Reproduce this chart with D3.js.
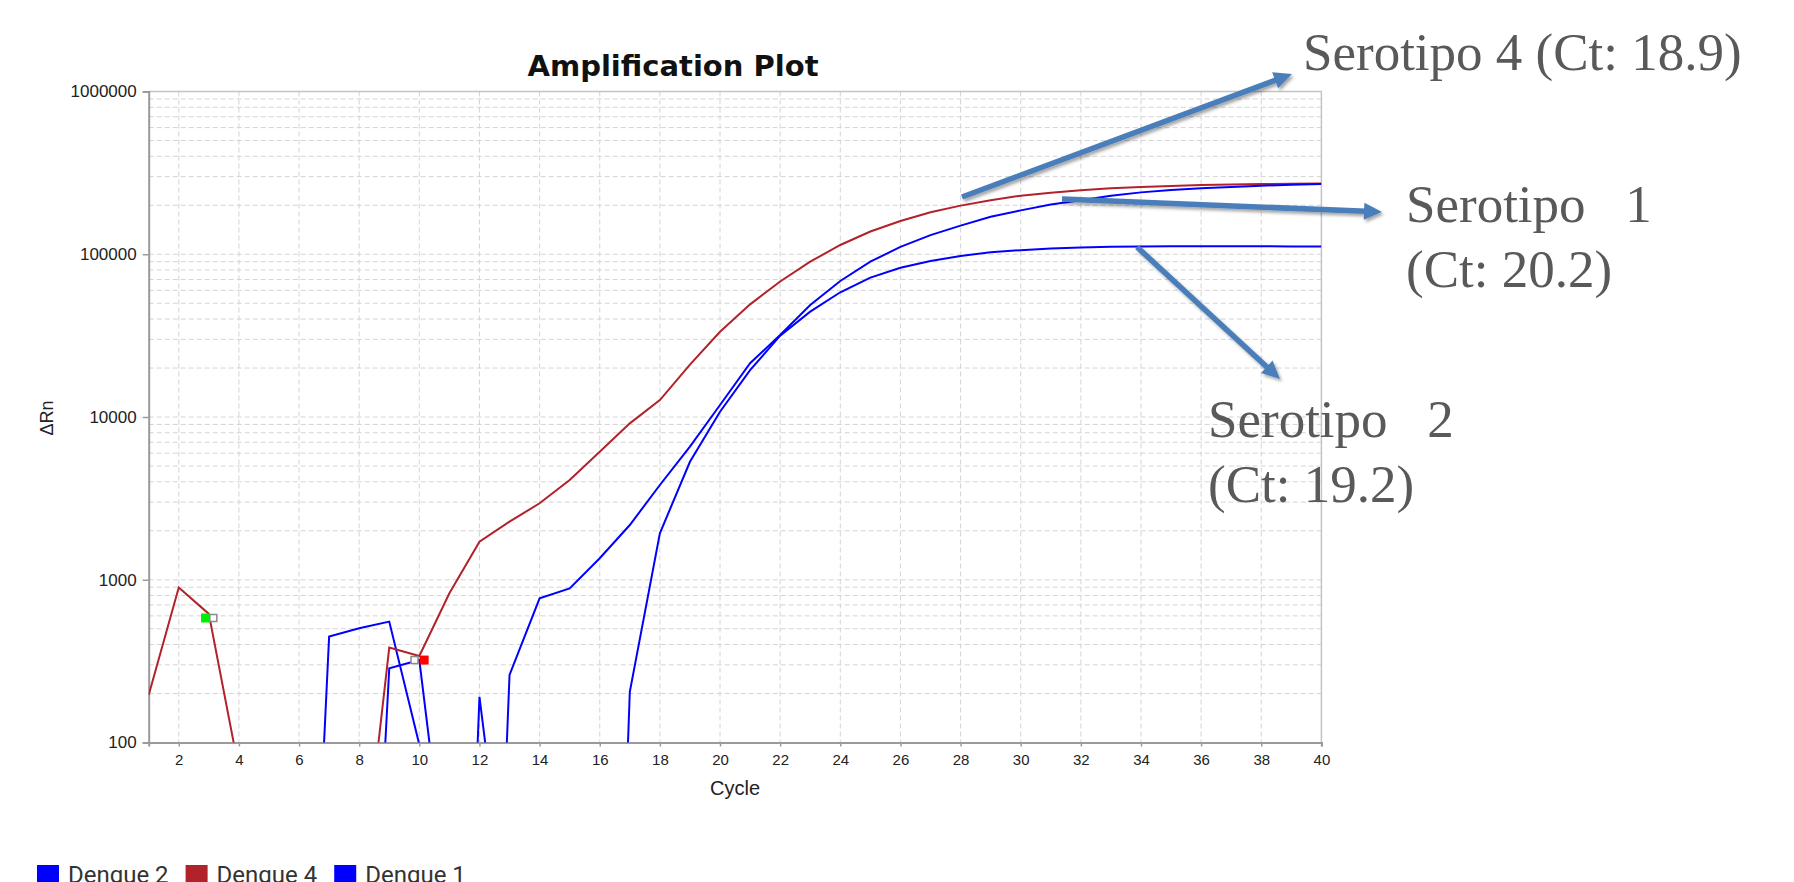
<!DOCTYPE html>
<html>
<head>
<meta charset="utf-8">
<script src="https://cdn.jsdelivr.net/npm/d3@7"></script>
<style>
  body { margin: 0; background: #fff; }
  svg { display: block; }
  .tick text { fill: #222; }
</style>
</head>
<body>
<div id="chart"></div>
<script>
// cycles 1..40
const cycles = d3.range(1, 41);

// ΔRn per cycle (values below 100 fall under the axis)
const dengue2 = [30, 20, 10, 5, 2, 0.06, 448, 504, 553, 97,
  0.004, 191, 6.3, 2, 1, 0.0013, 205, 1930, 5310, 10780,
  19400, 31600, 44400, 58400, 71800, 82700, 90900, 97600, 103000, 106000,
  108500, 110000, 111000, 111500, 112000, 112000, 112000, 112000, 111500, 111500];

const dengue4 = [196, 897, 617, 68, 40, 25, 15, 9, 383, 340,
  826, 1714, 2274, 2951, 4100, 6120, 9140, 12700, 21000, 33400,
  49200, 68000, 90000, 114000, 138000, 160000, 181000, 199000, 215000, 229000,
  239000, 247000, 254000, 259000, 263000, 266000, 268000, 270000, 271000, 272000];

const dengue1 = [20, 15, 10, 8, 5, 3, 1, 0.09, 286, 321,
  10, 0.006, 260, 769, 885, 1355, 2170, 3820, 6570, 11850,
  21400, 31900, 48800, 68500, 90000, 111000, 131000, 150000, 170000, 186000,
  202000, 215000, 229000, 240000, 248000, 254000, 259000, 264000, 267000, 270000];

const seriesNames = ["Dengue 2", "Dengue 4", "Dengue 1"];
const seriesValues = [dengue2, dengue4, dengue1];
const seriesColors = ["#0000ff", "#b2222a", "#0000ff"];

// threshold markers on the curves
const markerCycles = [2.89, 3.15, 10.16, 9.84];
const markerValues = [582, 582, 321, 321];
const markerKinds = ["green", "open", "red", "open"];

const xTicks = d3.range(2, 41, 2);
const yTicks = [100, 1000, 10000, 100000, 1000000];

const labelLines = [["Serotipo 4 (Ct: 18.9)"], ["Serotipo   1", "(Ct: 20.2)"], ["Serotipo   2", "(Ct: 19.2)"]];

// layout
const W = 1794, H = 882;
const plot = { left: 148.7, right: 1321.4, top: 91.5, bottom: 742.5 };

const svg = d3.select("#chart").append("svg")
  .attr("width", W).attr("height", H);

const defs = svg.append("defs");
defs.append("clipPath").attr("id", "plotclip")
  .append("rect")
  .attr("x", plot.left).attr("y", plot.top)
  .attr("width", plot.right - plot.left).attr("height", plot.bottom - plot.top);
defs.append("filter").attr("id", "shadow")
  .attr("x", "-20%").attr("y", "-20%").attr("width", "140%").attr("height", "140%")
  .append("feDropShadow")
  .attr("dx", 2).attr("dy", 2.5).attr("stdDeviation", 1.6)
  .attr("flood-color", "#000").attr("flood-opacity", 0.35);

const x = d3.scaleLinear().domain([1, 40]).range([plot.left, plot.right]);
const y = d3.scaleLog().domain([100, 1000000]).range([plot.bottom, plot.top]);

// grid
const minor = [];
[100, 1000, 10000, 100000].forEach(d => {
  for (let k = 1; k <= 9; k++) minor.push(d * k);
});
svg.append("g").selectAll("line.hgrid")
  .data(minor.filter(v => v > 100))
  .join("line")
  .attr("x1", plot.left).attr("x2", plot.right)
  .attr("y1", d => y(d)).attr("y2", d => y(d))
  .attr("stroke", "#d4d4d4").attr("stroke-width", 1)
  .attr("stroke-dasharray", "5,3");
svg.append("g").selectAll("line.vgrid")
  .data(xTicks.filter(c => c < 40))
  .join("line")
  .attr("x1", d => x(d)).attr("x2", d => x(d))
  .attr("y1", plot.top).attr("y2", plot.bottom)
  .attr("stroke", "#d4d4d4").attr("stroke-width", 1)
  .attr("stroke-dasharray", "5,3");

// frame (top / right)
svg.append("path")
  .attr("d", `M${plot.left},${plot.top}H${plot.right}V${plot.bottom}`)
  .attr("fill", "none").attr("stroke", "#c4c4c4").attr("stroke-width", 1.5);

// axes
const yAxis = svg.append("g")
  .attr("transform", `translate(${plot.left},0)`)
  .call(d3.axisLeft(y).tickValues(yTicks).tickFormat(d3.format("d")).tickSize(6).tickPadding(6));
yAxis.selectAll("text")
  .attr("font-family", "'Liberation Sans', Arial, sans-serif").attr("font-size", 17);

const xAxis = svg.append("g")
  .attr("transform", `translate(0,${plot.bottom})`)
  .call(d3.axisBottom(x).tickValues(xTicks).tickSize(4).tickPadding(8));
xAxis.selectAll("text")
  .attr("font-family", "'Liberation Sans', Arial, sans-serif").attr("font-size", 15);

[yAxis, xAxis].forEach(a => {
  a.select(".domain").attr("stroke", "#9a9a9a").attr("stroke-width", 2);
  a.selectAll(".tick line").attr("stroke", "#9a9a9a").attr("stroke-width", 1.5);
});

// curves
const line = d3.line()
  .x((d, i) => x(cycles[i]))
  .y(d => y(d));

svg.append("g").attr("clip-path", "url(#plotclip)")
  .selectAll("path.curve")
  .data(seriesValues)
  .join("path")
  .attr("class", "curve")
  .attr("d", line)
  .attr("fill", "none")
  .attr("stroke", (d, i) => seriesColors[i])
  .attr("stroke-width", 2);

// markers
const mk = svg.append("g");
markerKinds.forEach((kind, i) => {
  const s = kind === "open" ? 7 : 9;
  mk.append("rect")
    .attr("x", x(markerCycles[i]) - s / 2)
    .attr("y", y(markerValues[i]) - s / 2)
    .attr("width", s).attr("height", s)
    .attr("fill", kind === "green" ? "#00ee00" : kind === "red" ? "#ff0000" : "#fff")
    .attr("stroke", kind === "open" ? "#8a8a8a" : "none")
    .attr("stroke-width", 1.5);
});

// titles
svg.append("text")
  .attr("x", 673).attr("y", 76)
  .attr("text-anchor", "middle")
  .attr("font-family", "'DejaVu Sans', Verdana, sans-serif")
  .attr("font-weight", "bold").attr("font-size", 29)
  .attr("fill", "#111")
  .text("Amplification Plot");

svg.append("text")
  .attr("x", (plot.left + plot.right) / 2).attr("y", 795)
  .attr("text-anchor", "middle")
  .attr("font-family", "'Liberation Sans', Arial, sans-serif").attr("font-size", 20)
  .attr("fill", "#222")
  .text("Cycle");

svg.append("text")
  .attr("transform", "translate(53,418) rotate(-90)")
  .attr("text-anchor", "middle")
  .attr("font-family", "'Liberation Sans', Arial, sans-serif").attr("font-size", 18)
  .attr("fill", "#222")
  .text("ΔRn");

// legend (cut by the bottom edge, as in the source picture)
let lx = 37;
const legend = svg.append("g");
seriesNames.forEach((name, i) => {
  legend.append("rect")
    .attr("x", lx).attr("y", 865).attr("width", 22).attr("height", 22)
    .attr("fill", seriesColors[i]);
  const t = legend.append("text")
    .attr("x", lx + 31).attr("y", 883)
    .attr("font-family", "Roboto, sans-serif").attr("font-size", 24)
    .attr("fill", "#333")
    .text(name);
  lx += 31 + t.node().getComputedTextLength() + 17;
});

// annotation arrows (from, to)
const arrows = [
  [[962, 197], [1292, 74]],
  [[1062, 199], [1382, 212]],
  [[1137, 247], [1280, 379]]
];
const ag = svg.append("g").attr("filter", "url(#shadow)");
arrows.forEach(([a, b]) => {
  const dx = b[0] - a[0], dy = b[1] - a[1];
  const len = Math.hypot(dx, dy), ux = dx / len, uy = dy / len;
  const hl = 18, hw = 8.5;
  const bx = b[0] - ux * hl, by = b[1] - uy * hl;
  ag.append("line")
    .attr("x1", a[0]).attr("y1", a[1]).attr("x2", bx + ux * 2).attr("y2", by + uy * 2)
    .attr("stroke", "#4a7ebb").attr("stroke-width", 5.5);
  ag.append("polygon")
    .attr("points", [[b[0], b[1]], [bx - uy * hw, by + ux * hw], [bx + uy * hw, by - ux * hw]].map(p => p.join(",")).join(" "))
    .attr("fill", "#4a7ebb");
});

// annotation texts
const labelPos = [[1303, 70], [1406, 222], [1208, 437]];
labelLines.forEach((lines, i) => {
  const t = svg.append("text")
    .attr("font-family", "'Liberation Serif', 'Times New Roman', serif")
    .attr("font-size", 53)
    .attr("fill", "#595959")
    .style("white-space", "pre");
  lines.forEach((s, j) => {
    t.append("tspan")
      .attr("x", labelPos[i][0]).attr("y", labelPos[i][1] + j * 65)
      .text(s);
  });
});
</script>
</body>
</html>
